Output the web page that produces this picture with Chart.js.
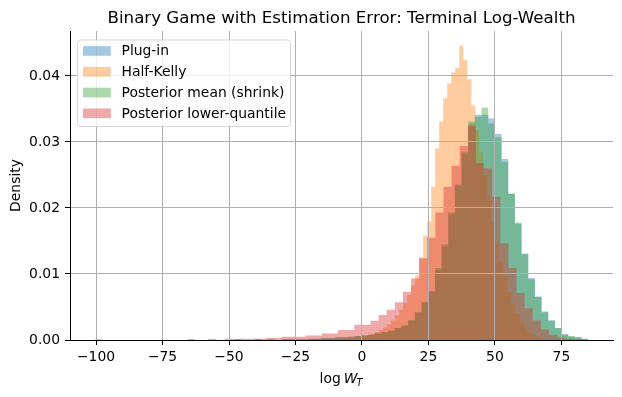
<!DOCTYPE html>
<html>
<head>
<meta charset="utf-8">
<script src="https://cdn.jsdelivr.net/npm/chart.js@4.4.1/dist/chart.umd.min.js"></script>
<style>
  html, body { margin: 0; padding: 0; background: #fff; }
</style>
</head>
<body>
<canvas id="histChart" width="622" height="397"></canvas>
<script>
// density per bin, left to right (60 bins each)
const plugIn = [
  0.0001, 0, 0, 0, 0, 0, 0, 0.0001, 0, 0,
  0.0001, 0, 0.0001, 0, 0.0001, 0.0001, 0.0001, 0.0001, 0.0002, 0.0002,
  0.0003, 0.0003, 0.0004, 0.0004, 0.0005, 0.0006, 0.0007, 0.0008, 0.0010, 0.0012,
  0.0014, 0.0018, 0.0022, 0.0030, 0.0042, 0.0057, 0.0075, 0.0106, 0.0145, 0.0190,
  0.0236, 0.0282, 0.0328, 0.0341, 0.0341, 0.0336, 0.0312, 0.0274, 0.0222, 0.0176,
  0.0131, 0.0094, 0.0066, 0.0043, 0.0030, 0.0018, 0.0009, 0.0005, 0.0004, 0.0002
];
const halfKelly = [
  0.0001, 0.0001, 0.0001, 0.0001, 0.0002, 0.0002, 0.0003, 0.0003, 0.0004, 0.0005,
  0.0006, 0.0008, 0.0010, 0.0012, 0.0015, 0.0019, 0.0024, 0.0030, 0.0037, 0.0046,
  0.0056, 0.0068, 0.0083, 0.0098, 0.0125, 0.0158, 0.0180, 0.0232, 0.0290, 0.0331,
  0.0366, 0.0389, 0.0405, 0.0412, 0.0446, 0.0424, 0.0395, 0.0355, 0.0318, 0.0285,
  0.0250, 0.0215, 0.0180, 0.0148, 0.0120, 0.0095, 0.0073, 0.0055, 0.0040, 0.0028,
  0.0019, 0.0012, 0.0008, 0.0005, 0.0003, 0.0002, 0.0001, 0.0001, 0.0001, 0.0001
];
const posteriorMean = [
  0.0001, 0, 0, 0, 0, 0, 0, 0.0001, 0, 0,
  0.0001, 0, 0.0001, 0, 0.0001, 0.0001, 0.0001, 0.0001, 0.0002, 0.0002,
  0.0003, 0.0003, 0.0004, 0.0004, 0.0005, 0.0006, 0.0007, 0.0008, 0.0010, 0.0012,
  0.0014, 0.0018, 0.0022, 0.0030, 0.0042, 0.0057, 0.0073, 0.0109, 0.0142, 0.0193,
  0.0234, 0.0285, 0.0331, 0.0338, 0.0352, 0.0328, 0.0307, 0.0270, 0.0221, 0.0178,
  0.0130, 0.0092, 0.0065, 0.0042, 0.0029, 0.0018, 0.0008, 0.0006, 0.0004, 0.0002
];
const posteriorLower = [
  0.0001, 0, 0, 0, 0, 0, 0, 0, 0, 0,
  0, 0, 0, 0, 0.0002, 0, 0.0002, 0.0001, 0.0002, 0.0002,
  0.0002, 0.0003, 0.0003, 0.0005, 0.0005, 0.0005, 0.0007, 0.0007, 0.0010, 0.0010,
  0.0015, 0.0015, 0.0023, 0.0023, 0.0029, 0.0038, 0.0046, 0.0057, 0.0073, 0.0093,
  0.0124, 0.0155, 0.0193, 0.0232, 0.0264, 0.0294, 0.0324, 0.0268, 0.0260, 0.0217,
  0.0146, 0.0109, 0.0071, 0.0048, 0.0030, 0.0016, 0.0008, 0.0004, 0.0002, 0.0001
];

// first and last bin edge of each series
const plugInRange = [-65.4, 85.1];
const halfKellyRange = [-14.7, 75.8];
const posteriorMeanRange = [-65.4, 85.1];
const posteriorLowerRange = [-100.5, 82.5];

const seriesNames = ['Plug-in', 'Half-Kelly', 'Posterior mean (shrink)', 'Posterior lower-quantile'];
const xTicks = [-100, -75, -50, -25, 0, 25, 50, 75];
const yTicks = [0, 0.01, 0.02, 0.03, 0.04];

const colors = ['rgba(31,119,180,0.4)', 'rgba(255,127,14,0.4)', 'rgba(44,160,44,0.4)', 'rgba(214,39,40,0.4)'];

// turn bins into step points for a filled stepped line
function toSteps(values, range) {
  var w = (range[1] - range[0]) / values.length;
  var pts = values.map(function(v, i) { return {x: range[0] + i * w, y: v}; });
  pts.push({x: range[1], y: 0});
  return pts;
}

const allSeries = [
  [plugIn, plugInRange],
  [halfKelly, halfKellyRange],
  [posteriorMean, posteriorMeanRange],
  [posteriorLower, posteriorLowerRange]
];

const datasets = allSeries.map(function(s, i) {
  return {
    label: seriesNames[i],
    data: toSteps(s[0], s[1]),
    stepped: 'before',
    fill: 'origin',
    backgroundColor: colors[i],
    borderColor: 'rgba(0,0,0,0)',
    borderWidth: 0,
    pointRadius: 0,
    order: 3 - i   // later series on top, like matplotlib
  };
});

const FONT = 'DejaVu Sans';

// title, x label and legend drawn by hand so they sit where matplotlib puts them
const extras = {
  id: 'extras',
  afterDraw: function(chart) {
    var ctx = chart.ctx, a = chart.chartArea;
    var cx = (a.left + a.right) / 2;
    ctx.save();
    ctx.fillStyle = '#000';
    ctx.textBaseline = 'alphabetic';

    // title
    ctx.font = '16.67px "' + FONT + '"';
    ctx.textAlign = 'center';
    ctx.fillText('Binary Game with Estimation Error: Terminal Log-Wealth', cx, 22.8);

    // x label: log W_T
    var f = '13.9px "' + FONT + '"', fi = 'italic 13.9px "' + FONT + '"', fs = 'italic 9.7px "' + FONT + '"';
    ctx.font = f;  var w1 = ctx.measureText('log').width;
    ctx.font = fi; var w2 = ctx.measureText('W').width;
    ctx.font = fs; var w3 = ctx.measureText('T').width;
    var gap = 3;
    var x0 = cx - (w1 + gap + w2 + w3) / 2, base = 383;
    ctx.textAlign = 'left';
    ctx.font = f;  ctx.fillText('log', x0, base);
    ctx.font = fi; ctx.fillText('W', x0 + w1 + gap, base);
    ctx.font = fs; ctx.fillText('T', x0 + w1 + gap + w2 - 1, base + 3);

    // legend
    var bx = 77.5, by = 40, bw = 213, bh = 86.5, r = 3;
    ctx.beginPath();
    ctx.moveTo(bx + r, by);
    ctx.arcTo(bx + bw, by, bx + bw, by + bh, r);
    ctx.arcTo(bx + bw, by + bh, bx, by + bh, r);
    ctx.arcTo(bx, by + bh, bx, by, r);
    ctx.arcTo(bx, by, bx + bw, by, r);
    ctx.closePath();
    ctx.fillStyle = 'rgba(255,255,255,0.8)';
    ctx.fill();
    ctx.strokeStyle = 'rgba(204,204,204,0.8)';
    ctx.lineWidth = 1;
    ctx.stroke();

    ctx.font = f;
    ctx.textBaseline = 'middle';
    seriesNames.forEach(function(name, i) {
      var ry = 51 + i * 20.8;
      ctx.fillStyle = colors[i];
      ctx.fillRect(83, ry - 4.9, 27.8, 9.7);
      ctx.fillStyle = '#000';
      ctx.fillText(name, 121.5, ry + 0.5);
    });
    ctx.restore();
  }
};

new Chart(document.getElementById('histChart').getContext('2d'), {
  type: 'line',
  data: { datasets: datasets },
  options: {
    responsive: false,
    animation: false,
    layout: { padding: { top: 31, right: 9, bottom: 0, left: 0 } },
    plugins: {
      legend: { display: false },
      title: { display: false },
      tooltip: { enabled: false }
    },
    scales: {
      x: {
        type: 'linear',
        min: -109.8,
        max: 94.4,
        afterBuildTicks: function(scale) { scale.ticks = xTicks.map(function(v) { return {value: v}; }); },
        afterFit: function(scale) { scale.height = 57; },
        grid: { color: '#b0b0b0', lineWidth: 1, tickColor: '#000', tickLength: 5, z: 1 },
        border: { display: true, color: '#000', width: 1, z: 2 },
        ticks: {
          color: '#000', padding: 4, maxRotation: 0, font: { family: FONT, size: 13.9 },
          callback: function(v) { return String(v).replace('-', '\u2212'); }
        }
      },
      y: {
        min: 0,
        max: 0.0468,
        afterBuildTicks: function(scale) { scale.ticks = yTicks.map(function(v) { return {value: v}; }); },
        afterFit: function(scale) { scale.width = 70; },
        grid: { color: '#b0b0b0', lineWidth: 1, tickColor: '#000', tickLength: 5, z: 1 },
        border: { display: true, color: '#000', width: 1, z: 2 },
        ticks: {
          color: '#000', padding: 5, font: { family: FONT, size: 13.9 },
          callback: function(v) { return v.toFixed(2); }
        },
        title: {
          display: true, text: 'Density', color: '#000',
          padding: { top: 8.5, bottom: 0 },
          font: { family: FONT, size: 13.9 }
        }
      }
    }
  },
  plugins: [extras]
});
</script>
</body>
</html>
